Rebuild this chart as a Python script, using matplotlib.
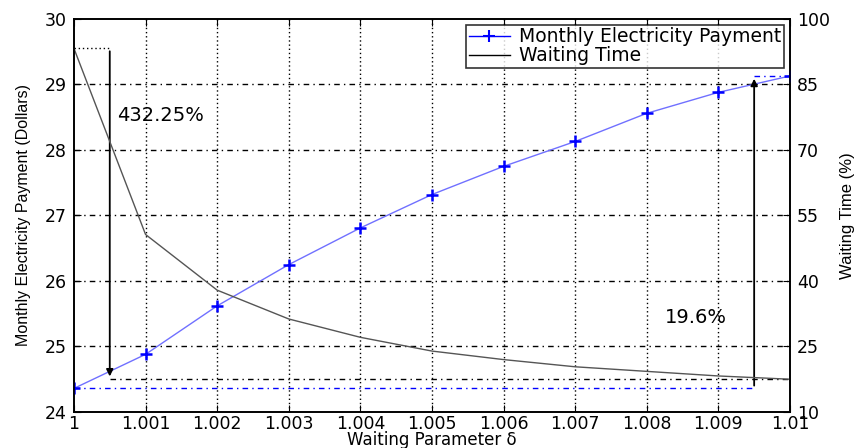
import matplotlib.pyplot as plt
from matplotlib.lines import Line2D

# data
delta = [1.000, 1.001, 1.002, 1.003, 1.004, 1.005, 1.006, 1.007, 1.008, 1.009, 1.010]
payment = [24.36, 24.88, 25.62, 26.25, 26.81, 27.32, 27.75, 28.13, 28.56, 28.88, 29.13]
waiting = [93.25, 50.65, 37.9, 31.3, 27.1, 23.95, 22.0, 20.35, 19.3, 18.25, 17.5]
x_ticks = [1, 1.001, 1.002, 1.003, 1.004, 1.005, 1.006, 1.007, 1.008, 1.009, 1.01]
x_labels = ['1', '1.001', '1.002', '1.003', '1.004', '1.005', '1.006', '1.007', '1.008', '1.009', '1.01']
left_ticks = [24, 25, 26, 27, 28, 29, 30]
right_ticks = [10, 25, 40, 55, 70, 85, 100]

plt.rcParams['font.family'] = ['DejaVu Sans']
dashdot = (0, (4, 3, 1, 3))

fig = plt.figure(figsize=(8.58, 4.48), dpi=100)
ax = fig.add_axes([0.0862, 0.0804, 0.8345, 0.8772])
ax2 = ax.twinx()

# left axis: payment
ax.plot(delta, payment, color='#7070ff', lw=1, zorder=3)
ax.plot(delta, payment, ls='none', marker='+', ms=8, mew=1.8, color='#0000ff', zorder=4)
ax.set_xlim(1, 1.01)
ax.set_ylim(24, 30)
ax.set_xticks(x_ticks)
ax.set_xticklabels(x_labels)
ax.set_yticks(left_ticks)

# grid in MATLAB style
for xt in x_ticks[1:-1]:
    ax.axvline(xt, color='black', ls=(0, (1, 2)), lw=1, zorder=1)
for yt in left_ticks[1:-1]:
    ax.axhline(yt, color='black', ls=dashdot, lw=1, zorder=1)

# right axis: waiting time
ax2.plot(delta, waiting, color='#555555', lw=1)
ax2.set_ylim(10, 100)
ax2.set_yticks(right_ticks)

for a in (ax, ax2):
    a.tick_params(direction='in', labelsize=12.5, length=5, top=True, pad=5)
    for s in a.spines.values():
        s.set_linewidth(1.2)
ax.tick_params(axis='x', pad=2)

# annotations
ax.plot([1, 1.0005], [29.55, 29.55], color='black', ls=(0, (1, 2)), lw=1)
ax.plot([1.0005, 1.01], [24.5, 24.5], color='black', ls=dashdot, lw=1, zorder=1)
ax.annotate('', xy=(1.0005, 24.5), xytext=(1.0005, 29.55),
            arrowprops=dict(arrowstyle='-|>', color='black', lw=1.3, mutation_scale=10))
ax.text(1.0006, 28.53, '432.25%', fontsize=14, va='center', ha='left')

ax.plot([1, 1.0095], [payment[0], payment[0]], color='blue', ls=dashdot, lw=1)
ax.plot([1.0095, 1.01], [payment[-1], payment[-1]], color='blue', ls=dashdot, lw=1)
ax.annotate('', xy=(1.0095, payment[-1]), xytext=(1.0095, payment[0]),
            arrowprops=dict(arrowstyle='-|>', color='black', lw=1.3, mutation_scale=10))
ax.text(1.00825, 25.45, '19.6%', fontsize=14, va='center', ha='left')

ax.set_xlabel('Waiting Parameter δ', fontsize=12, labelpad=-1.5)
ax.set_ylabel('Monthly Electricity Payment (Dollars)', fontsize=11.5,
              family=['Liberation Sans', 'DejaVu Sans'], labelpad=10)
ax2.set_ylabel('Waiting Time (%)', fontsize=12,
               family=['Liberation Sans', 'DejaVu Sans'], labelpad=7)

handles = [Line2D([], [], color='blue', marker='+', ms=8, mew=1.5, lw=1),
           Line2D([], [], color='black', lw=1)]
leg = ax.legend(handles, ['Monthly Electricity Payment', 'Waiting Time'], loc='upper right',
                fontsize=13.5, frameon=True, fancybox=False, edgecolor='black',
                borderpad=0.15, labelspacing=0.0, handlelength=2.2, handletextpad=0.5,
                borderaxespad=0.3)
leg.get_frame().set_linewidth(1.2)
leg.set_zorder(10)

fig.savefig('out.png', dpi=100)
